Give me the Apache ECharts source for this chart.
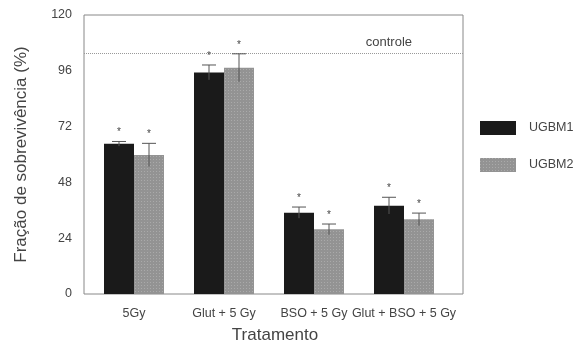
<!DOCTYPE html>
<html><head><meta charset="utf-8">
<script src="https://cdn.jsdelivr.net/npm/echarts@6/dist/echarts.min.js"></script>
<style>html,body{margin:0;padding:0;background:#fff}#c{width:574px;height:342px}</style>
</head><body><div id="c"></div>
<script>
var categories = ['5Gy', 'Glut + 5 Gy', 'BSO + 5 Gy', 'Glut + BSO + 5 Gy'];
var ugbm1 = [64.6, 95.3, 35.0, 38.0];
var ugbm1Err = [1.0, 3.2, 2.4, 3.6];
var ugbm2 = [59.8, 97.3, 27.8, 32.1];
var ugbm2Err = [5.0, 6.0, 2.3, 2.7];
var controle = 103.5;
var yTicks = [0, 24, 48, 72, 96, 120];

var chart = echarts.init(document.getElementById('c'), null, {renderer: 'canvas'});
var font = 'Liberation Sans, Arial, sans-serif';

function errSeries(vals, errs, offset) {
  return {
    type: 'custom',
    xAxisIndex: 0, yAxisIndex: 0,
    z: 5,
    data: vals.map(function (v, i) { return [i, v, errs[i]]; }),
    renderItem: function (params, api) {
      var i = api.value(0), v = api.value(1), e = api.value(2);
      var c = api.coord([i, v]);
      var x = c[0] + offset;
      var top = api.coord([i, v + e])[1];
      var bot = api.coord([i, v - e])[1];
      var hw = 7;
      var st = {stroke: '#555', lineWidth: 1};
      return {
        type: 'group',
        children: [
          {type: 'line', shape: {x1: x, y1: top, x2: x, y2: bot}, style: st},
          {type: 'line', shape: {x1: x - hw, y1: top, x2: x + hw, y2: top}, style: st},
          {type: 'text', style: {x: x, y: top - 9, text: '*', textAlign: 'center', textVerticalAlign: 'middle', fill: '#444', font: '10px ' + font}}
        ]
      };
    }
  };
}

var option = {
  animation: false,
  aria: {decal: {show: true}},
  grid: [
    {left: 89, width: 360, top: 15, height: 279, show: false, containLabel: false, outerBoundsMode: 'none'},
    {left: 84, width: 379, top: 15, height: 279, show: true, borderColor: '#888', borderWidth: 1, backgroundColor: 'transparent', containLabel: false, outerBoundsMode: 'none'}
  ],
  xAxis: [
    {type: 'category', gridIndex: 0, data: categories, axisLine: {show: false}, axisTick: {show: false},
     axisLabel: {color: '#444', fontSize: 12.5, fontFamily: font, margin: 13, interval: 0},
     name: 'Tratamento', nameLocation: 'middle', nameGap: 33, nameTextStyle: {color: '#444', fontSize: 17, fontFamily: font, padding: [0, 0, 0, 12]}},
    {type: 'value', gridIndex: 1, min: 0, max: 1, show: false}
  ],
  yAxis: [
    {type: 'value', gridIndex: 0, min: 0, max: 120, interval: 24, axisLine: {show: false}, axisTick: {show: false}, splitLine: {show: false},
     axisLabel: {color: '#444', fontSize: 12.5, fontFamily: font, margin: 17, padding: [5, 0, 0, 0],
       formatter: function (v) { return yTicks.indexOf(v) >= 0 ? String(v) : ''; }},
     name: 'Fração de sobrevivência (%)', nameLocation: 'middle', nameGap: 59, nameRotate: 90,
     nameTextStyle: {color: '#444', fontSize: 17, fontFamily: font}},
    {type: 'value', gridIndex: 1, min: 0, max: 120, show: false}
  ],
  legend: {
    orient: 'vertical', left: 475, top: 116, itemWidth: 36, itemHeight: 14, itemGap: 23,
    icon: 'rect',
    textStyle: {color: '#444', fontSize: 12.5, fontFamily: font, padding: [0, 0, 0, 8]},
    data: ['UGBM1', 'UGBM2']
  },
  series: [
    {name: 'UGBM1', type: 'bar', xAxisIndex: 0, yAxisIndex: 0, data: ugbm1, barWidth: 30, barGap: '0%',
     itemStyle: {color: '#1a1a1a', decal: {symbol: 'none'}}},
    {name: 'UGBM2', type: 'bar', xAxisIndex: 0, yAxisIndex: 0, data: ugbm2, barWidth: 30,
     itemStyle: {color: '#939393', decal: {symbol: 'rect', symbolSize: 1, color: 'rgba(200,200,200,0.45)', dashArrayX: [1, 2], dashArrayY: [1, 2], rotation: 0}}},
    errSeries(ugbm1, ugbm1Err, -15),
    errSeries(ugbm2, ugbm2Err, 15),
    {type: 'line', xAxisIndex: 1, yAxisIndex: 1, data: [], silent: true,
     markLine: {symbol: 'none', silent: true,
       lineStyle: {type: [1, 1], color: '#999', width: 1},
       label: {show: true, position: 'insideEndTop', formatter: 'controle', color: '#444', fontSize: 13, fontFamily: font, distance: [51, 4]},
       data: [{yAxis: controle}]}}
  ]
};
chart.setOption(option);
</script></body></html>
